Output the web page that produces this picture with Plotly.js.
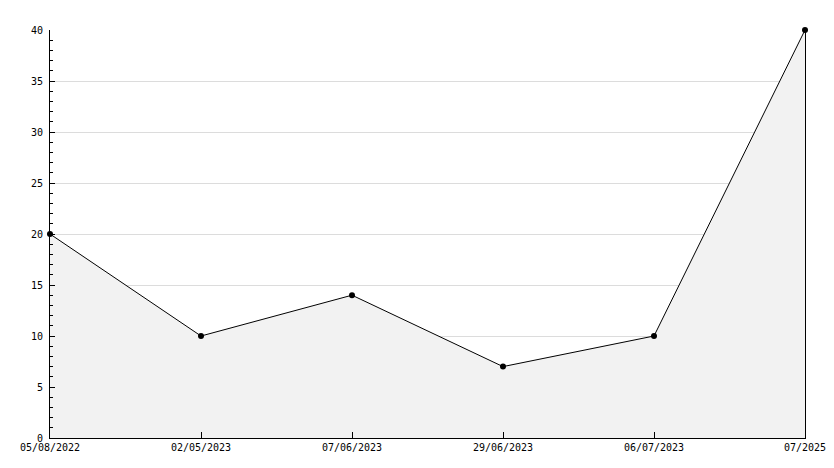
<!DOCTYPE html>
<html>
<head>
<meta charset="utf-8">
<script src="https://cdn.plot.ly/plotly-3.0.1.min.js"></script>
<style>html,body{margin:0;padding:0;background:#fff;}#chart{width:834px;height:468px;}</style>
</head>
<body>
<div id="chart"></div>
<script>
const categories = ["05/08/2022", "02/05/2023", "07/06/2023", "29/06/2023", "06/07/2023", "07/2025"];
const values = [20, 10, 14, 7, 10, 40];
const yTicks = [0, 5, 10, 15, 20, 25, 30, 35, 40];

const idx = categories.map((_, i) => i);

const trace = {
  x: idx,
  y: values,
  type: 'scatter',
  mode: 'lines+markers',
  fill: 'tozeroy',
  fillcolor: '#f2f2f2',
  cliponaxis: false,
  line: {color: '#000', width: 1},
  marker: {color: '#000', size: 6, symbol: 'circle'},
  hoverinfo: 'skip'
};

const layout = {
  width: 834, height: 468,
  margin: {l: 50, r: 29, t: 30, b: 30},
  paper_bgcolor: '#fff', plot_bgcolor: '#fff',
  showlegend: false,
  font: {family: 'DejaVu Sans Mono, monospace', size: 10, color: '#000'},
  xaxis: {
    range: [0, categories.length - 1],
    tickvals: idx, ticktext: categories,
    ticks: 'inside', ticklen: 6, tickcolor: '#000', tickwidth: 1,
    showgrid: false, zeroline: false,
    showline: true, linecolor: '#000', linewidth: 1,
    tickfont: {family: 'DejaVu Sans Mono, monospace', size: 10, color: '#000'}
  },
  yaxis: {
    range: [0, 40],
    tickvals: yTicks,
    ticks: 'inside', ticklen: 5, tickcolor: '#000', tickwidth: 1,
    minor: {dtick: 1, ticks: 'inside', ticklen: 3, tickcolor: '#000', showgrid: false},
    showgrid: true, gridcolor: '#dcdcdc', gridwidth: 1,
    zeroline: false,
    showline: true, mirror: true, linecolor: '#000', linewidth: 1,
    ticklabelstandoff: 4,
    tickfont: {family: 'DejaVu Sans Mono, monospace', size: 10, color: '#000'}
  }
};

Plotly.newPlot('chart', [trace], layout, {staticPlot: true, displayModeBar: false});
</script>
</body>
</html>
